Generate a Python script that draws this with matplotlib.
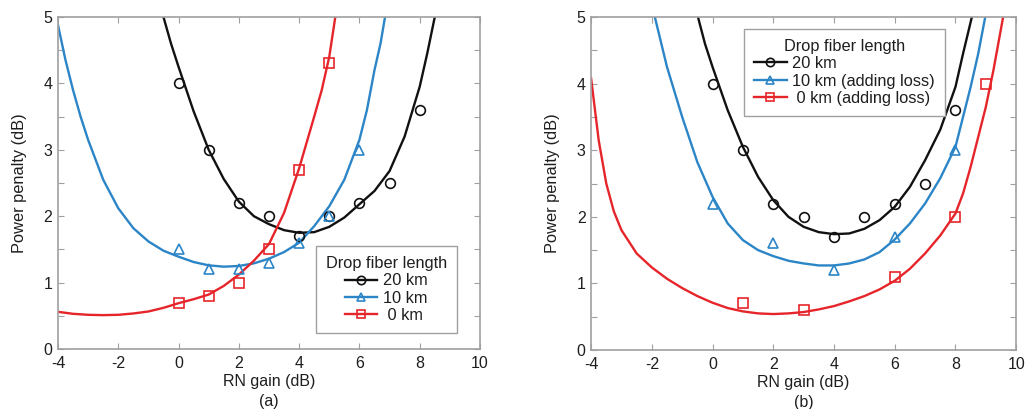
import numpy as np
import matplotlib

matplotlib.use("Agg")
import matplotlib.pyplot as plt
from matplotlib.ticker import MultipleLocator, FuncFormatter

plt.rcParams["font.family"] = ["Liberation Sans", "DejaVu Sans"]
plt.rcParams["font.size"] = 11
plt.rcParams["axes.unicode_minus"] = False

# ── Measured points (RN gain dB -> power penalty dB) ──────────────────────────
a_20_x = [0, 1, 2, 3, 4, 5, 6, 7, 8]
a_20_y = [4.0, 3.0, 2.2, 2.0, 1.7, 2.0, 2.2, 2.5, 3.6]
a_10_x = [0, 1, 2, 3, 4, 5, 6]
a_10_y = [1.5, 1.2, 1.2, 1.3, 1.6, 2.0, 3.0]
a_0_x = [0, 1, 2, 3, 4, 5]
a_0_y = [0.7, 0.8, 1.0, 1.5, 2.7, 4.3]

b_20_x = [0, 1, 2, 3, 4, 5, 6, 7, 8]
b_20_y = [4.0, 3.0, 2.2, 2.0, 1.7, 2.0, 2.2, 2.5, 3.6]
b_10_x = [0, 2, 4, 6, 8]
b_10_y = [2.2, 1.6, 1.2, 1.7, 3.0]
b_0_x = [1, 3, 6, 8, 9]
b_0_y = [0.7, 0.6, 1.1, 2.0, 4.0]

# ── Fitted curves ────────────────────────────────────────────────────────────
a_20_fx = [-0.5, -0.25, 0, 0.5, 1, 1.5, 2, 2.5, 3, 3.5, 4, 4.5, 5, 5.5, 6, 6.5, 7, 7.5, 8, 8.25, 8.5]
a_20_fy = [5.0, 4.6, 4.25, 3.58, 3.0, 2.56, 2.22, 2.0, 1.88, 1.79, 1.75, 1.76, 1.84, 1.98, 2.18, 2.38, 2.68, 3.2, 3.95, 4.45, 5.0]
a_10_fx = [-4, -3.75, -3.5, -3.25, -3, -2.5, -2, -1.5, -1, -0.5, 0, 0.5, 1, 1.5, 2, 2.5, 3, 3.5, 4, 4.5, 5, 5.5, 6, 6.25, 6.5, 6.7, 6.85]
a_10_fy = [4.88, 4.35, 3.9, 3.5, 3.15, 2.55, 2.12, 1.82, 1.62, 1.48, 1.39, 1.31, 1.26, 1.24, 1.25, 1.29, 1.36, 1.46, 1.6, 1.85, 2.15, 2.55, 3.15, 3.6, 4.2, 4.6, 5.0]
a_0_fx = [-4, -3.5, -3, -2.5, -2, -1.5, -1, -0.5, 0, 0.5, 1, 1.5, 2, 2.5, 3, 3.5, 4, 4.5, 4.75, 5, 5.1, 5.2]
a_0_fy = [0.56, 0.53, 0.515, 0.51, 0.515, 0.535, 0.565, 0.62, 0.69, 0.75, 0.82, 0.95, 1.12, 1.33, 1.58, 2.05, 2.72, 3.5, 3.9, 4.4, 4.7, 5.0]

b_20_fx = [-0.48, -0.25, 0, 0.5, 1, 1.5, 2, 2.5, 3, 3.5, 4, 4.5, 5, 5.5, 6, 6.5, 7, 7.5, 8, 8.25, 8.54]
b_20_fy = [5.0, 4.6, 4.25, 3.6, 3.05, 2.6, 2.25, 2.0, 1.85, 1.77, 1.74, 1.75, 1.82, 1.95, 2.15, 2.45, 2.85, 3.31, 3.95, 4.45, 5.0]
b_10_fx = [-1.9, -1.5, -1, -0.5, 0, 0.5, 1, 1.5, 2, 2.5, 3, 3.5, 4, 4.5, 5, 5.5, 6, 6.5, 7, 7.5, 8, 8.25, 8.5, 8.75, 8.98]
b_10_fy = [5.0, 4.25, 3.5, 2.82, 2.3, 1.9, 1.65, 1.5, 1.41, 1.34, 1.3, 1.27, 1.27, 1.3, 1.36, 1.47, 1.66, 1.9, 2.2, 2.58, 3.05, 3.5, 3.95, 4.45, 5.0]
b_0_fx = [-4, -3.75, -3.5, -3.25, -3, -2.5, -2, -1.5, -1, -0.5, 0, 0.5, 1, 1.5, 2, 2.5, 3, 3.5, 4, 4.5, 5, 5.5, 6, 6.5, 7, 7.5, 8, 8.25, 8.5, 8.75, 9, 9.25, 9.57]
b_0_fy = [4.08, 3.15, 2.5, 2.08, 1.8, 1.45, 1.24, 1.07, 0.93, 0.81, 0.71, 0.63, 0.58, 0.55, 0.54, 0.55, 0.57, 0.61, 0.66, 0.73, 0.81, 0.91, 1.04, 1.22, 1.45, 1.72, 2.05, 2.35, 2.75, 3.2, 3.65, 4.2, 5.0]

legend_title = "Drop fiber length"
labels_a = ["20 km", "10 km", " 0 km"]
labels_b = ["20 km", "10 km (adding loss)", " 0 km (adding loss)"]

BLACK = "#111111"
BLUE = "#2b85c7"
RED = "#e6252b"
FRAME = "#a0a0a0"
TEXT = "#1e1e1e"


def style_axes(ax, tag):
    ax.set_xlim(-4, 10)
    ax.set_ylim(0, 5)
    ax.xaxis.set_major_locator(MultipleLocator(2))
    ax.yaxis.set_major_locator(MultipleLocator(0.5))
    ax.yaxis.set_major_formatter(
        FuncFormatter(lambda v, p: f"{v:.0f}" if abs(v - round(v)) < 1e-6 else "")
    )
    ax.tick_params(direction="in", top=True, right=True, length=4,
                   color=FRAME, labelsize=11.5, labelcolor=TEXT)
    ax.tick_params(axis="x", pad=5)
    ax.tick_params(axis="y", pad=4)
    for s in ax.spines.values():
        s.set_color(FRAME)
        s.set_linewidth(1.2)
    ax.set_xlabel("RN gain (dB)\n" + tag, fontsize=11.5, color=TEXT,
                  labelpad=2, linespacing=1.4)
    ax.set_ylabel("Power penalty (dB)", fontsize=11.8, color=TEXT, labelpad=12)


def draw(ax, series):
    handles = []
    for px, py, fx, fy, color, marker in series:
        ax.plot(fx, fy, color=color, lw=1.7, zorder=2)
        ax.plot(px, py, ls="none", marker=marker, ms=7, mfc="none",
                mec=color, mew=1.2, zorder=3)
        h, = ax.plot([], [], color=color, lw=1.7, marker=marker, ms=6,
                     mfc="none", mec=color, mew=1.2)
        handles.append(h)
    return handles


fig = plt.figure(figsize=(10.28, 4.09), dpi=100)
ax_a = fig.add_axes([0.0564, 0.1467, 0.4105, 0.8117])
ax_b = fig.add_axes([0.575, 0.1442, 0.4135, 0.8141])

h_a = draw(ax_a, [
    (a_20_x, a_20_y, a_20_fx, a_20_fy, BLACK, "o"),
    (a_10_x, a_10_y, a_10_fx, a_10_fy, BLUE, "^"),
    (a_0_x, a_0_y, a_0_fx, a_0_fy, RED, "s"),
])
h_b = draw(ax_b, [
    (b_20_x, b_20_y, b_20_fx, b_20_fy, BLACK, "o"),
    (b_10_x, b_10_y, b_10_fx, b_10_fy, BLUE, "^"),
    (b_0_x, b_0_y, b_0_fx, b_0_fy, RED, "s"),
])

style_axes(ax_a, "(a)")
style_axes(ax_b, "(b)")

for ax, h, labs, anchor in [
    (ax_a, h_a, labels_a, (0.611, 0.048)),
    (ax_b, h_b, labels_b, (0.36, 0.703)),
]:
    leg = ax.legend(h, labs, title=legend_title, loc="lower left",
                    bbox_to_anchor=anchor, fontsize=11.8, title_fontsize=11.8,
                    frameon=True, fancybox=False, framealpha=1,
                    edgecolor=FRAME, handlelength=2.0, handletextpad=0.35,
                    labelspacing=0.15, borderpad=0.6, borderaxespad=0)
    leg.get_frame().set_linewidth(1.0)
    for t in leg.get_texts():
        t.set_color(TEXT)
    leg.get_title().set_color(TEXT)

fig.savefig("out.png", dpi=100)
